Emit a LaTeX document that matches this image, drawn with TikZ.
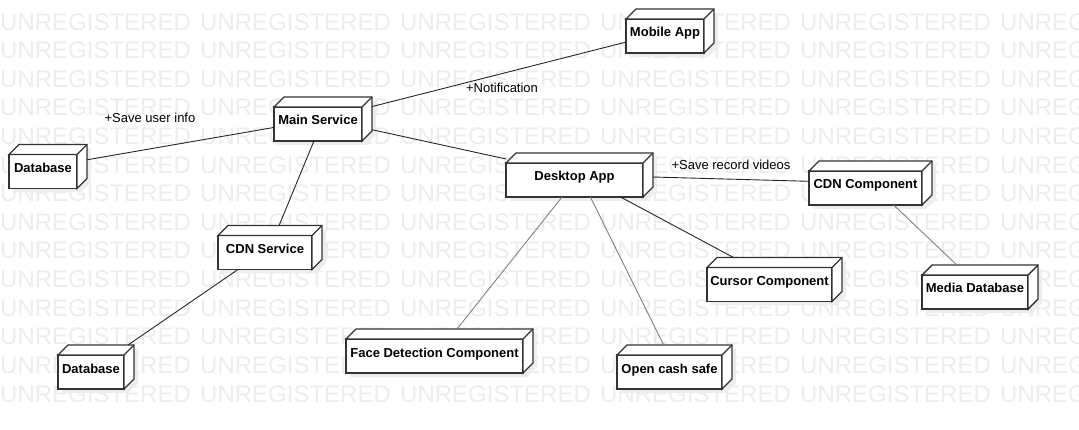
\documentclass[tikz,border=0pt]{standalone}
\usepackage{fontspec}
\setmainfont{Liberation Sans}
\usetikzlibrary{fit, backgrounds}

\tikzset{
  devnode/.style={draw=black!80, line width=1.4pt, fill=white, inner sep=0pt, outer sep=0pt,
    minimum height=34pt, text height=10pt, text depth=8pt, font=\bfseries\fontsize{13}{15}\selectfont},
  devface/.style={draw=black!80, line width=1.4pt, fill=white},
  devshadow/.style={fill=black!7},
  link/.style={black!85, line width=0.9pt},
  faintlink/.style={black!50, line width=0.9pt},
  linklabel/.style={font=\fontsize{13}{15}\selectfont, inner sep=0pt},
  watermark/.style={text=black!7, font=\fontsize{24}{24}\selectfont, inner sep=0pt, anchor=base west},
}

\begin{document}
\begin{tikzpicture}[x=1pt, y=-1pt]
      \useasboundingbox (0,0) rectangle (1079,430);

      % watermark
      \begin{pgfonlayer}{background}
        \foreach \i in {0,...,13}
          \foreach \j in {0,...,5}
            \node[watermark] (wm-\i-\j) at ({200*\j}, {30.2+28.6*\i}) {UNREGISTERED};
      \end{pgfonlayer}

      \node[devnode, minimum width=78pt] (mobile) at (665, 36) {Mobile App};
      \node[devnode, minimum width=88pt] (main) at (318, 124) {Main Service};
      \node[devnode, minimum width=68pt] (dbuser) at (43, 171.5) {Database};
      \node[devnode, minimum width=137pt] (desktop) at (574.5, 180) {Desktop App};
      \node[devnode, minimum width=113pt] (cdncomp) at (865.5, 188) {CDN Component};
      \node[devnode, minimum width=94pt] (cdnsvc) at (265, 252.5) {CDN Service};
      \node[devnode, minimum width=125pt] (cursor) at (769.5, 284.5) {Cursor Component};
      \node[devnode, minimum width=106pt] (mediadb) at (975, 292) {Media Database};
      \node[devnode, minimum width=177pt] (face) at (434.5, 356) {Face Detection Component};
      \node[devnode, minimum width=66pt] (dbcdn) at (91, 372) {Database};
      \node[devnode, minimum width=105pt] (cashsafe) at (669.5, 372) {Open cash safe};

      % 3d faces, shadow and outer box of every node
      \foreach \n in {mobile, main, dbuser, desktop, cdncomp, cdnsvc, cursor, mediadb, face, dbcdn, cashsafe} {
        \begin{pgfonlayer}{background}
          \fill[devshadow] ([shift={(4,4)}]\n.south west) -- ([shift={(4,4)}]\n.north west)
            -- ([shift={(14,-6)}]\n.north west) -- ([shift={(14,-6)}]\n.north east)
            -- ([shift={(14,-6)}]\n.south east) -- ([shift={(4,4)}]\n.south east) -- cycle;
        \end{pgfonlayer}
        \filldraw[devface] (\n.north west) -- ++(10,-10) -- ([shift={(10,-10)}]\n.north east)
          -- ([shift={(10,-10)}]\n.south east) -- (\n.south east) -- (\n.north east) -- cycle;
        \draw[devface] (\n.north east) -- ++(10,-10);
        \node[fit={(\n) ([shift={(10,-10)}]\n.north east)}, inner sep=0pt, outer sep=0pt] (\n-all) {};
      }

      \draw[link] (main-all) -- (mobile-all);
      \draw[link] (main-all) -- (desktop-all);
      \draw[link] (main-all) -- (dbuser-all);
      \draw[link] (main-all) -- (cdnsvc-all);
      \draw[link] (cdnsvc-all) -- (dbcdn-all);
      \draw[link] (desktop-all) -- (cdncomp-all);
      \draw[link] (desktop-all) -- (cursor-all);
      \draw[faintlink] (desktop-all) -- (face-all);
      \draw[faintlink] (desktop-all) -- (cashsafe-all);
      \draw[faintlink] (cdncomp-all) -- (mediadb-all);

      \node[linklabel] (lbl-user) at (150, 118) {+Save user info};
      \node[linklabel] (lbl-notify) at (502, 88) {+Notification};
      \node[linklabel] (lbl-videos) at (731, 165) {+Save record videos};

    \end{tikzpicture}
\end{document}
